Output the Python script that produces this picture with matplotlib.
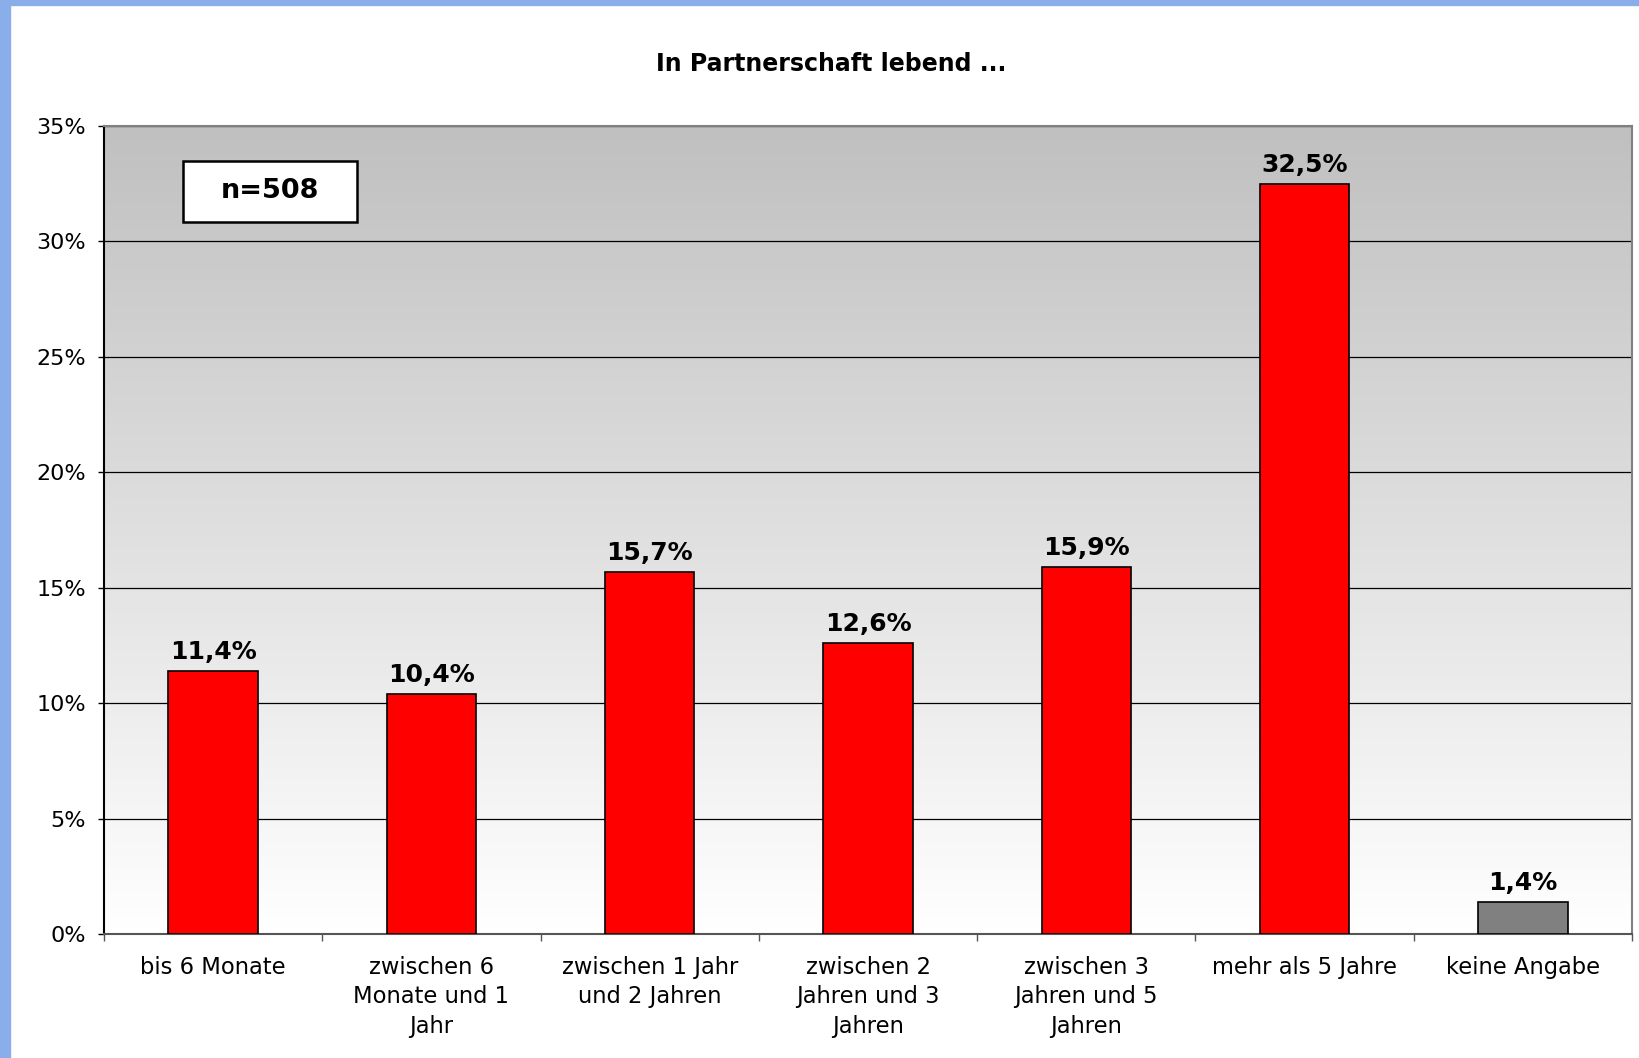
import numpy as np
import matplotlib
matplotlib.use("Agg")
from matplotlib import pyplot as plt
from matplotlib.colors import LinearSegmentedColormap
from matplotlib.patches import Rectangle

categories = ["bis 6 Monate", "zwischen 6\nMonate und 1\nJahr", "zwischen 1 Jahr\nund 2 Jahren",
              "zwischen 2\nJahren und 3\nJahren", "zwischen 3\nJahren und 5\nJahren",
              "mehr als 5 Jahre", "keine Angabe"]
values = [11.4, 10.4, 15.7, 12.6, 15.9, 32.5, 1.4]
bar_colors = ["#ff0000"] * 6 + ["#808080"]
yticks = [0, 5, 10, 15, 20, 25, 30, 35]

plt.rcParams['font.family'] = ['DejaVu Sans']

fig = plt.figure(figsize=(16.39, 10.58), dpi=100)
W, H = 1639, 1058
ax = fig.add_axes([104 / W, 1 - 934 / H, (1632 - 104) / W, (934 - 126) / H])

# blue frame at left and top
fig.patches.append(Rectangle((0, 0), 10 / W, 1, transform=fig.transFigure, color="#8aaee9", zorder=10))
fig.patches.append(Rectangle((0, 1 - 5 / H), 1, 5 / H, transform=fig.transFigure, color="#8aaee9", zorder=10))

# gradient plot area
grad = np.linspace(0, 1, 256).reshape(-1, 1)
cmap = LinearSegmentedColormap.from_list("bg", ["#ffffff", "#c0c0c0"])
ax.imshow(grad, cmap=cmap, aspect="auto", origin="lower", extent=[0, 1, 0, 1],
          transform=ax.transAxes, zorder=-1)

x = np.arange(len(categories))
bars = ax.bar(x, values, width=0.41, color=bar_colors, edgecolor="black", linewidth=1.2, zorder=3)
for xi, v in zip(x, values):
    ax.annotate(f"{v:.1f}%".replace(".", ","), (xi, v), xytext=(0, 5), textcoords="offset points",
                ha="center", va="bottom", fontsize=18, fontweight="bold", zorder=4)

ax.set_xlim(-0.5, len(categories) - 0.5)
ax.set_ylim(0, 35)
ax.set_yticks(yticks)
ax.set_yticklabels([f"{t}%" for t in yticks], fontsize=16)
ax.tick_params(axis="y", length=4, width=1, pad=9, color="black")
ax.yaxis.grid(True, color="black", linewidth=0.9, zorder=1)

ax.set_xticks(x)
ax.set_xticklabels(categories, fontsize=16.3, linespacing=1.38)
ax.set_xticks(np.arange(len(categories) + 1) - 0.5, minor=True)
ax.tick_params(axis="x", which="major", length=0, pad=15.5)
ax.tick_params(axis="x", which="minor", length=5, width=1, color="#555555")

ax.spines["left"].set_color("black")
ax.spines["bottom"].set_color("#555555")
ax.spines["top"].set_color("#808080")
ax.spines["right"].set_color("#808080")
for s in ax.spines.values():
    s.set_linewidth(1.5)

# n box
bx0, bx1 = (183 - 104) / 1528, (357 - 104) / 1528
by0, by1 = (934 - 222) / 808, (934 - 161) / 808
ax.add_patch(Rectangle((bx0, by0), bx1 - bx0, by1 - by0, transform=ax.transAxes,
                       facecolor="white", edgecolor="black", linewidth=1.8, zorder=5))
ax.text((bx0 + bx1) / 2, (by0 + by1) / 2, "n=508", transform=ax.transAxes, ha="center",
        va="center", fontsize=19.5, fontweight="bold", zorder=6)

fig.text(831 / W, 1 - 64 / H, "In Partnerschaft lebend ...", ha="center", va="center",
         fontsize=17, fontweight="bold")

fig.savefig("out.png", dpi=100)
